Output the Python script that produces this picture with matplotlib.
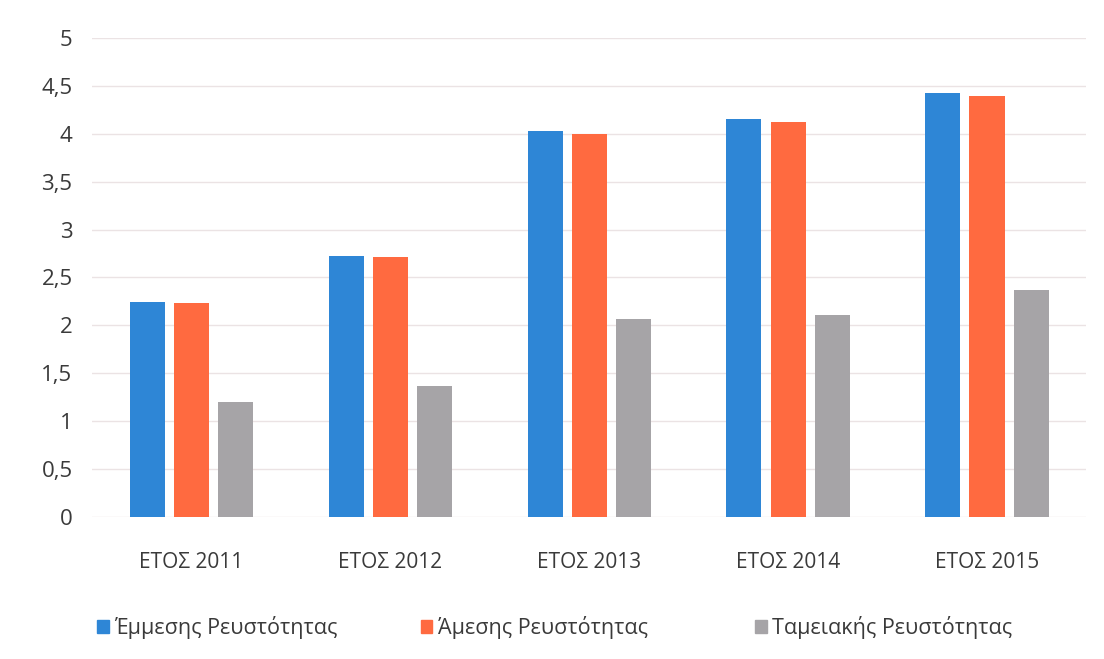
import numpy as np
import matplotlib.pyplot as plt
from matplotlib.patches import Patch

plt.rcParams['font.family'] = ['Open Sans', 'DejaVu Sans']

years = ["ΕΤΟΣ 2011", "ΕΤΟΣ 2012", "ΕΤΟΣ 2013", "ΕΤΟΣ 2014", "ΕΤΟΣ 2015"]
series_names = ["Έμμεσης Ρευστότητας", "Άμεσης Ρευστότητας", "Ταμειακής Ρευστότητας"]
emmesis = [2.24, 2.72, 4.03, 4.15, 4.43]
amesis = [2.23, 2.71, 4.00, 4.12, 4.39]
tameiakis = [1.20, 1.37, 2.07, 2.11, 2.37]
y_ticks = [0, 0.5, 1, 1.5, 2, 2.5, 3, 3.5, 4, 4.5, 5]

colors = ["#2e86d6", "#ff6a40", "#a6a4a7"]

fig = plt.figure(figsize=(11.04, 6.59), dpi=100)
ax = fig.add_axes([0.0833, 0.2155, 0.9008, 0.727])

x = np.arange(len(years))
width = 0.176
offsets = [-0.222, 0.0, 0.222]
for vals, off, c in zip([emmesis, amesis, tameiakis], offsets, colors):
    ax.bar(x + off, vals, width=width, color=c, zorder=3)

ax.set_xlim(-0.5, len(years) - 0.5)
ax.set_ylim(0, 5)
ax.set_yticks(y_ticks)
ax.set_yticklabels([f"{t:g}".replace(".", ",") for t in y_ticks])
ax.set_xticks(x)
ax.set_xticklabels(years)

ax.grid(axis="y", color="#ebe3e4", linewidth=1.0, zorder=0)
for s in ax.spines.values():
    s.set_visible(False)
ax.tick_params(axis="both", length=0, colors="#3a3a3a")
ax.tick_params(axis="y", pad=14, labelsize=16)
ax.tick_params(axis="x", pad=25, labelsize=15)

# legend entries sit at uneven spacing, one small legend per series
legend_x = [0.088, 0.381, 0.684]
for name, c, lx in zip(series_names, colors, legend_x):
    leg = fig.legend(handles=[Patch(color=c, label=name)], loc="center left",
                     bbox_to_anchor=(lx, 0.048), frameon=False, fontsize=15.5,
                     handlelength=0.55, handleheight=0.55, handletextpad=0.25,
                     borderaxespad=0, borderpad=0)
    for t in leg.get_texts():
        t.set_color("#3a3a3a")

fig.savefig("out.png", dpi=100, facecolor="white")
